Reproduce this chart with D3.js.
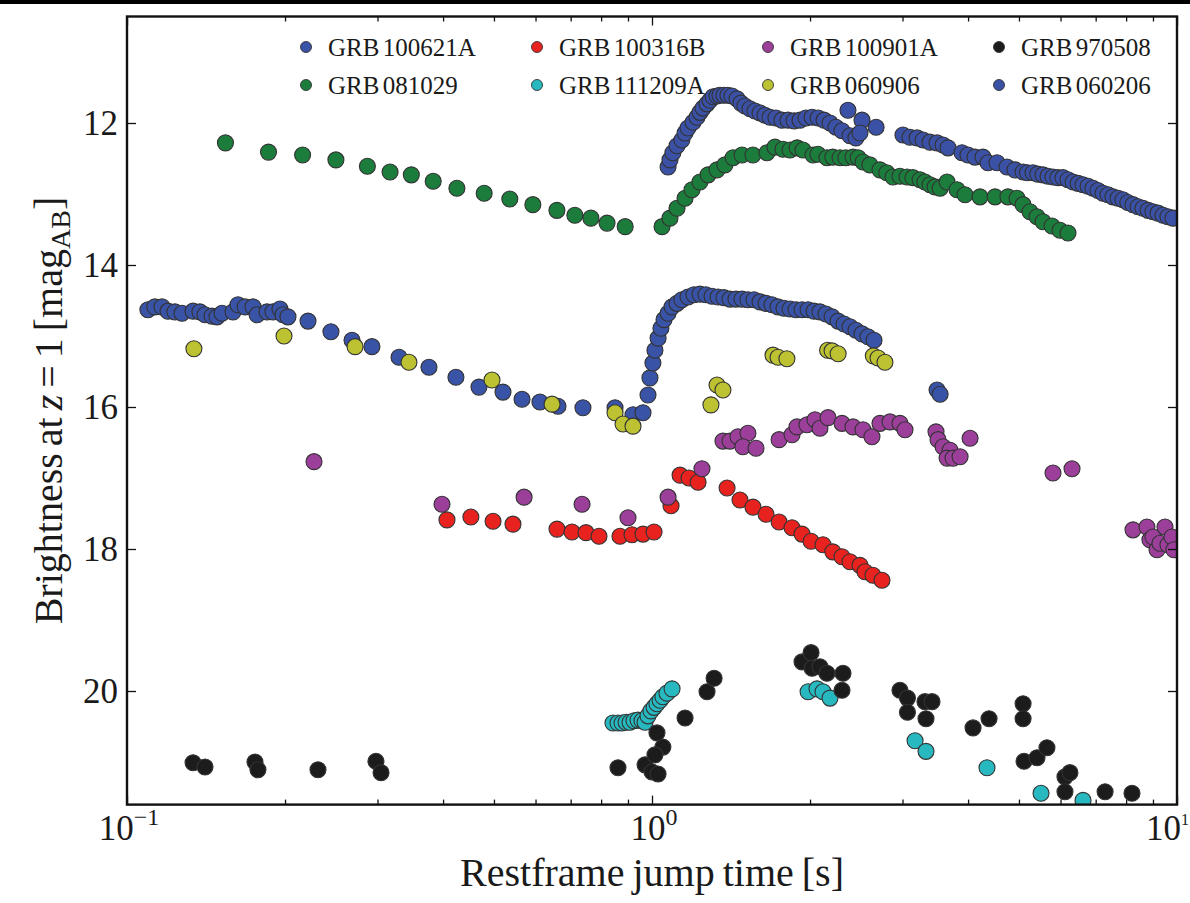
<!DOCTYPE html>
<html>
<head>
<meta charset="utf-8">
<script src="https://cdn.jsdelivr.net/npm/d3@7"></script>
<style>
  body { margin: 0; background: #fff; }
  svg { display: block; }
  text { font-family: "Liberation Serif", "DejaVu Serif", serif; fill: #1a1a1a; }
</style>
</head>
<body>
<svg id="chart" width="1190" height="903"></svg>
<script>
// Light curves: [restframe jump time (s), brightness at z = 1 (mag_AB)]
const grb100621A = [
  [0.1096,14.63],[0.1130,14.59],[0.1166,14.59],[0.1197,14.65],[0.1234,14.66],[0.1273,14.68],[0.1336,14.65],
  [0.1377,14.66],[0.1408,14.70],[0.1452,14.72],[0.1484,14.73],[0.1517,14.68],[0.1592,14.66],[0.1627,14.56],
  [0.1679,14.59],[0.1738,14.59],[0.1769,14.70],[0.1848,14.66],[0.1897,14.66],[0.1956,14.62],[0.1982,14.70],
  [0.2026,14.73],[0.2212,14.79],[0.2446,14.94],[0.2683,15.06],[0.2928,15.15],[0.3297,15.30],[0.3760,15.44],
  [0.4232,15.58],[0.4682,15.72],[0.5202,15.79],[0.5655,15.89],[0.6117,15.93],[0.6621,15.99],[0.7387,16.01],
  [0.8503,16.01],[0.9201,16.11],[0.9613,16.08],[0.9826,15.83],[0.991,15.59],[1.004,15.38],[1.013,15.20],
  [1.027,15.03],[1.040,14.89],[1.054,14.77],[1.073,14.68],[1.092,14.59],[1.116,14.54],[1.140,14.49],
  [1.171,14.45],[1.202,14.42],[1.234,14.41],[1.267,14.42],[1.301,14.44],[1.336,14.45],[1.371,14.46],
  [1.408,14.48],[1.445,14.48],[1.484,14.48],[1.523,14.49],[1.564,14.49],[1.606,14.52],[1.649,14.54],
  [1.693,14.56],[1.738,14.59],[1.784,14.61],[1.832,14.62],[1.881,14.63],[1.931,14.63],[1.983,14.63],
  [2.036,14.65],[2.089,14.66],[2.145,14.69],[2.203,14.73],[2.262,14.79],[2.322,14.83],[2.383,14.87],
  [2.446,14.92],[2.512,14.97],[2.579,15.01],[2.648,15.06],[3.491,15.76],[3.538,15.82]
];
const grb081029 = [
  [0.154,12.28],[0.186,12.41],[0.216,12.45],[0.250,12.52],[0.287,12.61],[0.317,12.69],[0.348,12.73],
  [0.383,12.82],[0.425,12.92],[0.479,12.99],[0.536,13.07],[0.593,13.15],[0.659,13.23],[0.713,13.30],
  [0.765,13.34],[0.821,13.41],[0.889,13.46],
  [1.045,13.46],[1.082,13.34],[1.116,13.20],[1.156,13.06],[1.192,12.94],[1.234,12.83],[1.279,12.73],
  [1.330,12.66],[1.377,12.59],[1.427,12.49],[1.484,12.45],[1.557,12.45],[1.656,12.42],[1.715,12.34],
  [1.776,12.37],[1.832,12.38],[1.890,12.35],[1.939,12.38],[2.026,12.45],[2.070,12.44],[2.154,12.49],
  [2.210,12.48],[2.281,12.49],[2.340,12.49],[2.415,12.48],[2.470,12.49],[2.523,12.55],[2.600,12.59],
  [2.718,12.66],[2.800,12.70],[2.877,12.76],[2.967,12.75],[3.060,12.76],[3.140,12.77],[3.240,12.80],
  [3.310,12.83],[3.385,12.87],[3.460,12.90],[3.538,12.92],[3.648,12.83],[3.811,12.94],[3.947,13.01],
  [4.215,13.04],[4.502,13.04],[4.764,13.04],[4.958,13.06],[5.091,13.15],[5.248,13.25],[5.412,13.32],
  [5.557,13.39],[5.779,13.45],[5.985,13.51],[6.200,13.55]
];
const grb100316B = [
  [0.4069,17.59],[0.4519,17.55],[0.4980,17.61],[0.5435,17.65],[0.6592,17.72],[0.7040,17.76],[0.7487,17.77],
  [0.7926,17.82],[0.869,17.82],[0.9160,17.80],[0.9613,17.79],[1.009,17.76],[1.087,17.39],[1.131,16.96],
  [1.176,17.00],[1.224,17.06],[1.390,17.14],[1.471,17.31],[1.557,17.41],[1.649,17.51],[1.746,17.62],
  [1.848,17.70],[1.931,17.79],[2.009,17.89],[2.117,17.94],[2.210,18.04],[2.301,18.11],[2.383,18.18],
  [2.490,18.23],[2.545,18.32],[2.635,18.37],[2.742,18.44]
];
const grb111209A = [
  [0.8426,20.45],[0.8614,20.45],[0.8768,20.45],[0.8924,20.44],[0.908,20.44],[0.9241,20.42],[0.9404,20.41],
  [0.9572,20.42],[0.970,20.44],[0.9826,20.35],[0.9956,20.28],[1.009,20.23],[1.022,20.18],[1.036,20.13],
  [1.049,20.08],[1.068,20.03],[1.092,19.97],
  [1.983,20.01],[2.062,19.97],[2.117,20.01],[2.183,20.10],
  [3.170,20.70],[3.326,20.85],[4.346,21.08],[5.508,21.44],[6.622,21.54]
];
const grb100901A = [
  [0.2271,16.77],[0.3981,17.37],[0.5706,17.27],[0.7358,17.37],[0.900,17.56],[1.073,17.27],[1.245,16.87],
  [1.365,16.48],[1.408,16.48],[1.458,16.42],[1.523,16.37],[1.490,16.56],[1.578,16.58],[1.746,16.46],
  [1.848,16.39],[1.889,16.28],[1.973,16.25],[2.044,16.18],[2.089,16.30],[2.164,16.15],[2.301,16.23],
  [2.415,16.28],[2.523,16.32],[2.624,16.42],[2.718,16.23],[2.840,16.21],[2.967,16.23],[3.033,16.32],
  [3.475,16.35],[3.506,16.46],[3.584,16.56],[3.696,16.61],[3.648,16.72],[3.745,16.72],[3.862,16.70],
  [4.035,16.44],[5.805,16.93],[6.310,16.87],
  [8.245,17.73],[8.764,17.69],[8.880,17.87],[9.000,17.83],[9.160,18.01],[9.280,17.92],[9.487,17.69],
  [9.610,17.94],[9.780,17.83],[9.865,18.01]
];
const grb060906 = [
  [0.1341,15.18],[0.1991,15.00],[0.2719,15.15],[0.3444,15.37],[0.4957,15.62],[0.6451,15.96],[0.8503,16.08],
  [0.8807,16.24],[0.9201,16.27],[1.295,15.97],[1.330,15.69],[1.365,15.76],[1.700,15.27],[1.738,15.30],
  [1.807,15.32],[2.160,15.20],[2.203,15.21],[2.262,15.25],[2.640,15.28],[2.695,15.31],[2.778,15.37]
];
const grb970508 = [
  [0.1336,21.01],[0.1408,21.07],[0.1753,21.00],[0.1776,21.11],[0.2311,21.11],[0.2980,20.99],[0.3047,21.15],
  [0.8614,21.08],[0.970,21.04],[1.000,21.14],[1.027,21.17],[1.022,20.59],[1.049,20.79],[1.013,20.90],
  [1.156,20.38],[1.273,20.01],[1.313,19.82],
  [1.931,19.59],[2.009,19.46],[2.018,19.68],[2.089,19.66],[2.154,19.75],[2.311,19.75],[2.301,19.99],
  [2.967,19.99],[3.066,20.10],[3.066,20.30],[3.311,20.15],[3.415,20.15],[3.326,20.39],[4.088,20.52],
  [4.385,20.39],[5.091,20.18],[5.091,20.39],[5.113,20.99],[5.412,20.94],[5.653,20.80],[6.118,21.21],
  [6.253,21.15],[6.118,21.42],[7.295,21.42],[8.209,21.44]
];
const grb060206 = [
  [1.073,12.62],[1.082,12.52],[1.096,12.42],[1.116,12.32],[1.140,12.24],[1.156,12.14],[1.171,12.07],
  [1.197,11.99],[1.218,11.92],[1.234,11.85],[1.251,11.79],[1.273,11.73],[1.290,11.68],[1.307,11.63],
  [1.330,11.62],[1.347,11.61],[1.371,11.61],[1.395,11.61],[1.420,11.62],[1.452,11.66],[1.477,11.72],
  [1.503,11.76],[1.537,11.80],[1.571,11.83],[1.606,11.86],[1.641,11.89],[1.678,11.92],[1.722,11.93],
  [1.768,11.96],[1.816,11.96],[1.865,11.97],[1.914,11.96],[1.965,11.93],[2.018,11.92],[2.072,11.93],
  [2.127,11.96],[2.183,12.00],[2.241,12.06],[2.301,12.11],[2.362,11.82],[2.383,12.18],[2.446,12.21],
  [2.512,11.96],[2.490,12.14],[2.672,12.06],
  [3.006,12.17],[3.100,12.20],[3.198,12.21],[3.283,12.24],[3.385,12.27],[3.491,12.28],[3.584,12.31],
  [3.663,12.35],[3.895,12.42],[3.998,12.45],[4.123,12.48],[4.270,12.48],[4.365,12.56],[4.541,12.56],
  [4.745,12.62],[4.914,12.66],[5.091,12.69],[5.190,12.70],[5.318,12.70],[5.430,12.72],[5.557,12.73],
  [5.680,12.75],[5.805,12.76],[5.930,12.77],[6.066,12.77],[6.200,12.80],[6.339,12.83],[6.480,12.85],
  [6.622,12.87],[6.770,12.89],[6.918,12.92],[7.070,12.95],[7.228,12.99],[7.390,13.01],[7.551,13.04],
  [7.720,13.06],[7.889,13.08],[8.060,13.12],[8.245,13.15],[8.430,13.18],[8.614,13.20],[8.810,13.23],
  [9.000,13.25],[9.200,13.27],[9.404,13.30],[9.610,13.32],[9.826,13.34]
];

const seriesNames  = ["GRB 100621A", "GRB 081029", "GRB 100316B", "GRB 111209A",
                      "GRB 100901A", "GRB 060906", "GRB 970508", "GRB 060206"];
const seriesData   = [grb100621A, grb081029, grb100316B, grb111209A,
                      grb100901A, grb060906, grb970508, grb060206];
const seriesColors = ["#3953a6", "#1b7c3c", "#e8231f", "#27b8c0",
                      "#9b3f9a", "#bcc231", "#1c1c1c", "#3a51a6"];

const xMajorTicks = [0.1, 1, 10];
const xTickExponents = ["\u22121", "0", "1"];
const xMinorTicks = [0.2, 0.3, 0.4, 0.5, 0.6, 0.7, 0.8, 0.9, 2, 3, 4, 5, 6, 7, 8, 9];
const yTicks = [12, 14, 16, 18, 20];

const W = 1190, H = 903;
const plotLeft = 127, plotRight = 1177, plotTop = 16.5, plotBottom = 804.6;

const x = d3.scaleLog().domain([0.1, 10]).range([plotLeft, plotRight]);
const y = d3.scaleLinear().domain([10.5, 21.6]).range([plotTop, plotBottom]);

const svg = d3.select("#chart");
svg.append("rect").attr("width", W).attr("height", H).attr("fill", "#fff");
svg.append("rect").attr("width", W).attr("height", 4).attr("fill", "#000");

svg.append("defs").append("clipPath").attr("id", "plot-clip")
  .append("rect").attr("x", plotLeft).attr("y", plotTop)
  .attr("width", plotRight - plotLeft).attr("height", plotBottom - plotTop);

// markers, in plotting order
const marks = svg.append("g").attr("clip-path", "url(#plot-clip)");
seriesData.forEach((data, i) => {
  marks.append("g").selectAll("circle").data(data).join("circle")
    .attr("cx", d => x(d[0]))
    .attr("cy", d => y(d[1]))
    .attr("r", 8)
    .attr("fill", seriesColors[i])
    .attr("stroke", "#333")
    .attr("stroke-width", 1.1);
});

// ticks pointing inward on all four sides
function styleAxis(g) {
  g.select(".domain").remove();
  g.selectAll(".tick line").attr("stroke", "#111").attr("stroke-width", 1.3);
  g.selectAll(".tick text").remove();
}
svg.append("g").attr("transform", `translate(0,${plotBottom})`)
  .call(d3.axisBottom(x).tickValues(xMajorTicks).tickSizeInner(-9).tickSizeOuter(0)).call(styleAxis);
svg.append("g").attr("transform", `translate(0,${plotBottom})`)
  .call(d3.axisBottom(x).tickValues(xMinorTicks).tickSizeInner(-5).tickSizeOuter(0)).call(styleAxis);
svg.append("g").attr("transform", `translate(0,${plotTop})`)
  .call(d3.axisTop(x).tickValues(xMajorTicks).tickSizeInner(-9).tickSizeOuter(0)).call(styleAxis);
svg.append("g").attr("transform", `translate(0,${plotTop})`)
  .call(d3.axisTop(x).tickValues(xMinorTicks).tickSizeInner(-5).tickSizeOuter(0)).call(styleAxis);
svg.append("g").attr("transform", `translate(${plotLeft},0)`)
  .call(d3.axisLeft(y).tickValues(yTicks).tickSizeInner(-9).tickSizeOuter(0)).call(styleAxis);
svg.append("g").attr("transform", `translate(${plotRight},0)`)
  .call(d3.axisRight(y).tickValues(yTicks).tickSizeInner(-9).tickSizeOuter(0)).call(styleAxis);

// frame
svg.append("rect").attr("x", plotLeft).attr("y", plotTop)
  .attr("width", plotRight - plotLeft).attr("height", plotBottom - plotTop)
  .attr("fill", "none").attr("stroke", "#111").attr("stroke-width", 2.4);

// tick labels (the last one is pulled in so it stays on the page)
xMajorTicks.forEach((v, i) => {
  const last = i === xMajorTicks.length - 1;
  const t = svg.append("text").attr("x", last ? W - 1 : x(v) + 2).attr("y", 840)
    .attr("text-anchor", last ? "end" : "middle").style("font-size", "35px");
  t.append("tspan").text("10");
  t.append("tspan").attr("dy", -15).style("font-size", last ? "16px" : "24px").text(xTickExponents[i]);
});
yTicks.forEach(v => {
  svg.append("text").attr("x", 118).attr("y", y(v)).attr("dy", "0.34em")
    .attr("text-anchor", "end").style("font-size", "35px").text(v);
});

// axis titles
svg.append("text").attr("x", 652).attr("y", 886).attr("text-anchor", "middle")
  .style("font-size", "40px").style("word-spacing", "-2px").text("Restframe jump time [s]");

const yl = svg.append("text").attr("transform", `translate(62,${(plotTop + plotBottom) / 2}) rotate(-90)`)
  .attr("text-anchor", "middle").style("font-size", "40px").style("word-spacing", "-3px");
yl.append("tspan").text("Brightness at ");
yl.append("tspan").style("font-style", "italic").text("z");
yl.append("tspan").text(" = 1 [mag");
yl.append("tspan").attr("dy", 8).style("font-size", "28px").text("AB");
yl.append("tspan").attr("dy", -8).text("]");

// legend: four columns, two rows (column-major fill)
const legend = svg.append("g");
seriesNames.forEach((name, i) => {
  const col = Math.floor(i / 2), row = i % 2;
  const lx = 306 + col * 231, ly = 47 + row * 38;
  legend.append("circle").attr("cx", lx).attr("cy", ly).attr("r", 5.5)
    .attr("fill", seriesColors[i]).attr("stroke", "#333").attr("stroke-width", 0.9);
  legend.append("text").attr("x", lx + 22).attr("y", ly).attr("dy", "0.35em")
    .style("font-size", "25px").style("word-spacing", "-3px").text(name);
});
</script>
</body>
</html>
